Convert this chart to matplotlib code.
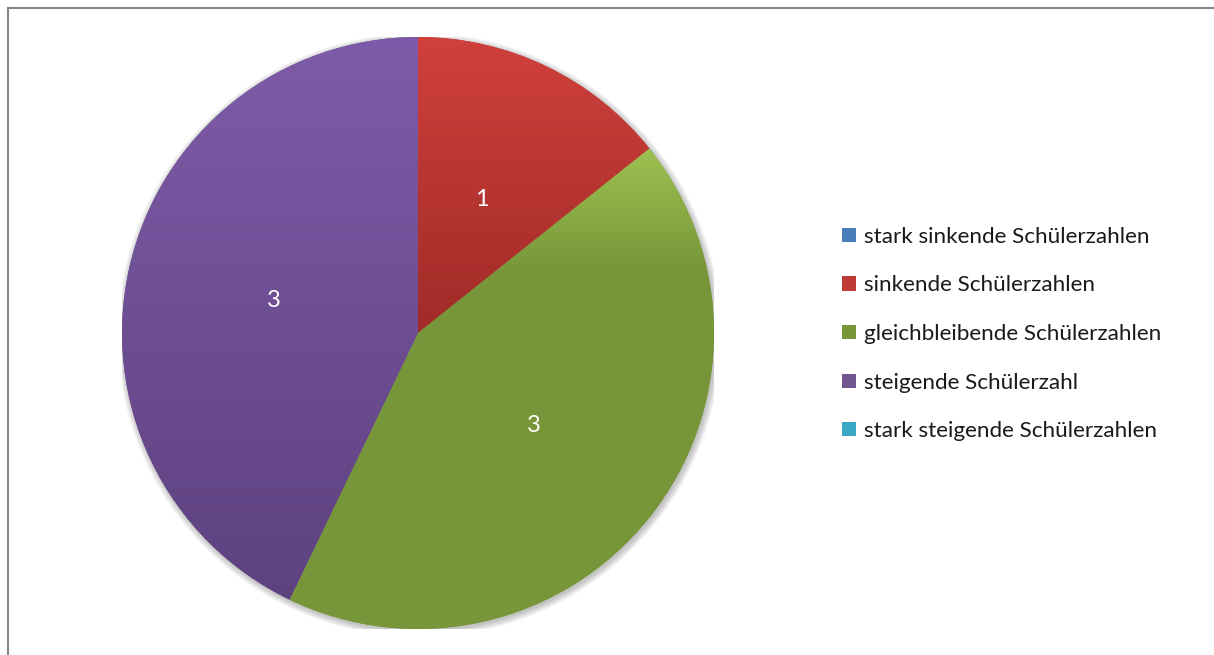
import numpy as np
import matplotlib.pyplot as plt
from matplotlib.colors import LinearSegmentedColormap
from matplotlib.lines import Line2D
from matplotlib.patches import Circle

plt.rcParams['font.family'] = ['Lato', 'DejaVu Sans']

categories = ['stark sinkende Schülerzahlen', 'sinkende Schülerzahlen',
              'gleichbleibende Schülerzahlen', 'steigende Schülerzahl',
              'stark steigende Schülerzahlen']
counts = [0, 1, 3, 3, 0]

base_colors = ['#4a7ebb', '#be3a37', '#77963a', '#71558f', '#3aa8c4']
# top-to-bottom gradient stops for each slice (position, colour)
gradients = [
    [(0.0, '#5a8fd0'), (1.0, '#3a6aa5')],
    [(0.0, '#d0403c'), (1.0, '#a02b28')],
    [(0.0, '#9cc150'), (0.25, '#78973a'), (1.0, '#77963a')],
    [(0.0, '#7e5ba8'), (1.0, '#5e4280')],
    [(0.0, '#4bc0da'), (1.0, '#2c8fab')],
]

fig = plt.figure(figsize=(12.14, 6.55), dpi=100)
cx, cy, r = 418, 333, 296
W, H = 1214, 655
ax = fig.add_axes([(cx - r) / W, (H - cy - r) / H, 2 * r / W, 2 * r / H])

# soft drop shadow behind the pie
for i in range(8):
    ax.add_patch(Circle((0.005, -0.007), 1.0 + i * 0.003, facecolor='black',
                        edgecolor='none', alpha=0.03, zorder=0))

total = sum(counts)


def show_value(p):
    v = int(round(p * total / 100))
    return str(v) if v > 0 else ''


wedges, texts, autotexts = ax.pie(
    counts, colors=base_colors, startangle=90, counterclock=False, radius=1,
    autopct=show_value, pctdistance=0.5,
    wedgeprops=dict(linewidth=0, zorder=1),
    textprops=dict(color='white', fontsize=17))

for w, stops in zip(wedges, gradients):
    if w.theta2 - w.theta1 <= 0:
        continue
    t = np.radians(np.linspace(w.theta1, w.theta2, 200))
    xs = np.concatenate([[0], np.cos(t)])
    ys = np.concatenate([[0], np.sin(t)])
    cmap = LinearSegmentedColormap.from_list('g', stops)
    grad = np.linspace(0, 1, 256).reshape(-1, 1)
    im = ax.imshow(grad, cmap=cmap, aspect='auto', origin='upper',
                   extent=(xs.min(), xs.max(), ys.min(), ys.max()),
                   zorder=2, interpolation='bilinear')
    im.set_clip_path(w)

for txt in autotexts:
    txt.set_zorder(5)

ax.set_xlim(-1, 1)
ax.set_ylim(-1, 1)
ax.set_aspect('equal')
ax.axis('off')

leg = fig.legend(wedges, categories, loc='center left',
                 bbox_to_anchor=(842 / W, (H - 334) / H),
                 frameon=False, fontsize=16.2, borderpad=0, borderaxespad=0,
                 handlelength=0.6, handleheight=0.6, handletextpad=0.4,
                 labelspacing=1.27)
for t in leg.get_texts():
    t.set_color('#1a1a1a')

# chart area border (top and left edges)
fig.add_artist(Line2D([8 / W, 1], [1 - 8 / H, 1 - 8 / H], color='#868686', lw=1.5))
fig.add_artist(Line2D([8 / W, 8 / W], [0, 1 - 8 / H], color='#868686', lw=1.5))

fig.savefig('out.png', dpi=100)
